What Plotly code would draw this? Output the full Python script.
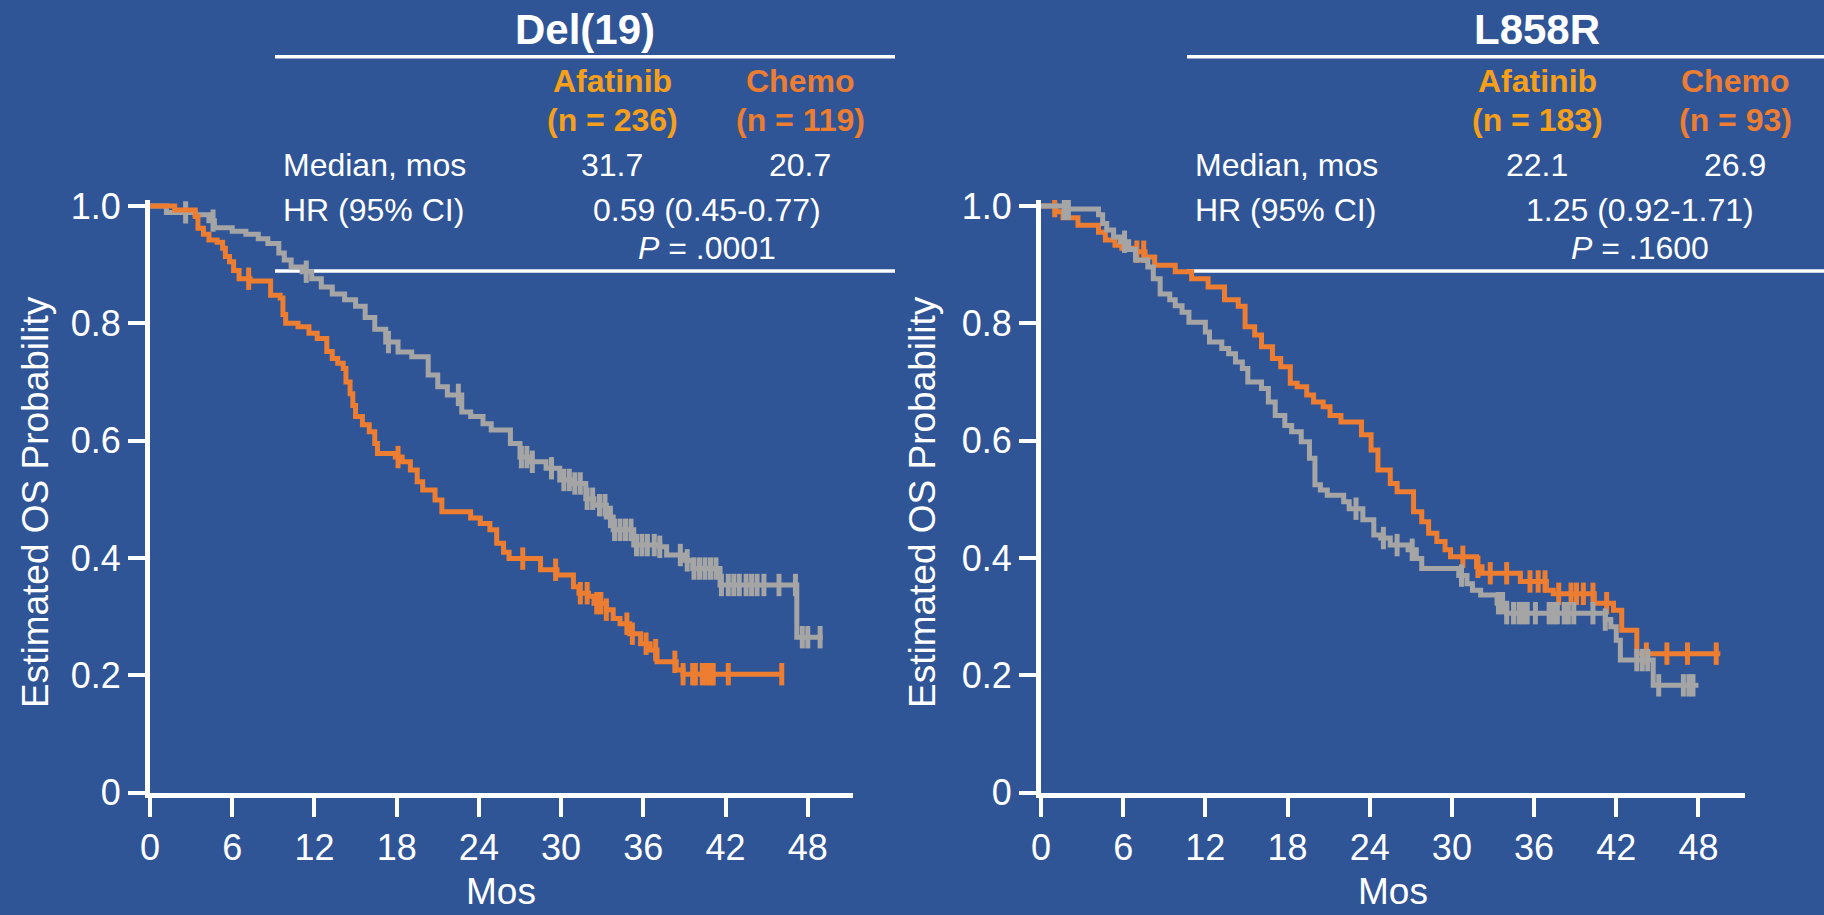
import numpy as np
import plotly.graph_objects as go

BG = '#2F5597'
ORANGE = '#ED7D31'
GRAY = '#A5A5A5'
GOLD = '#F6A01A'
WHITE = '#FFFFFF'
FONT = 'Liberation Sans, Arial, sans-serif'

W, H = 1824, 915

# ---------------- data (KM step points: time in months, survival) ----------------
del19_chemo_t = [0, 1.8, 3.3, 3.5, 3.9, 4.3, 4.9, 5.3, 5.5, 5.8, 6.1, 6.5, 7.3, 8.8, 9.5, 9.7, 9.9,
                 10.8, 11.6, 12.2, 12.9, 13.3, 13.7, 14.1, 14.3, 14.6, 14.8, 15.0, 15.5, 16.0, 16.4,
                 16.6, 17.9, 18.4, 19.0, 19.5, 19.9, 20.8, 21.3, 23.4, 24.1, 24.8, 25.3, 25.8, 26.2,
                 28.5, 29.7, 30.9, 31.3, 32.0, 32.4, 33.3, 33.8, 34.3, 35.0, 35.8, 36.5, 37.0, 38.4,
                 38.9, 46.2]
del19_chemo_s = [1.0, 0.993, 0.982, 0.962, 0.952, 0.942, 0.938, 0.928, 0.914, 0.905, 0.89, 0.876,
                 0.872, 0.848, 0.843, 0.815, 0.8, 0.794, 0.783, 0.774, 0.752, 0.74, 0.732, 0.723, 0.70,
                 0.68, 0.66, 0.641, 0.627, 0.615, 0.595, 0.578, 0.572, 0.564, 0.55, 0.53, 0.516, 0.499,
                 0.479, 0.468, 0.459, 0.448, 0.425, 0.41, 0.399, 0.38, 0.371, 0.351, 0.34, 0.335, 0.323,
                 0.312, 0.297, 0.288, 0.271, 0.254, 0.243, 0.223, 0.209, 0.202, 0.202]
del19_chemo_cens = [7.2, 18.1, 27.2, 29.6, 31.4, 31.9, 32.6, 32.9, 33.3, 34.8, 35.2, 36.2, 36.9,
                    38.3, 38.9, 39.6, 39.8, 40.3, 40.6, 40.9, 41.1, 42.2, 46.1]

del19_afa_t = [0, 1.2, 3.3, 4.3, 4.7, 6.0, 7.0, 7.9, 8.6, 9.4, 9.8, 10.3, 11.1, 11.8, 12.5, 13.3,
               14.2, 15.0, 15.7, 16.4, 17.2, 18.1, 19.1, 20.3, 21.0, 21.7, 22.75, 23.4, 24.3, 24.9,
               26.3, 27.0, 27.7, 28.9, 29.9, 30.7, 31.8, 32.4, 33.3, 33.8, 35.3, 37.2, 37.7, 38.9,
               39.6, 41.6, 47.2, 49.1]
del19_afa_s = [1.0, 0.989, 0.985, 0.975, 0.963, 0.957, 0.952, 0.944, 0.936, 0.92, 0.908, 0.896,
               0.888, 0.876, 0.862, 0.85, 0.84, 0.829, 0.81, 0.79, 0.768, 0.751, 0.743, 0.712, 0.692,
               0.678, 0.649, 0.641, 0.629, 0.618, 0.595, 0.572, 0.564, 0.553, 0.533, 0.527, 0.501,
               0.49, 0.47, 0.448, 0.422, 0.419, 0.405, 0.396, 0.382, 0.354, 0.265, 0.265]
del19_afa_cens = [2.6, 4.6, 11.4, 17.4, 22.5, 27.1, 27.5, 27.9, 29.3, 30.2, 30.6, 31.0, 31.4, 31.9,
                  32.3, 32.8, 33.2, 33.6, 33.9, 34.3, 34.7, 35.1, 35.5, 35.9, 36.3, 36.8, 37.2, 38.7,
                  39.2, 39.7, 40.1, 40.5, 40.9, 41.3, 41.7, 42.2, 42.6, 43.0, 43.5, 43.9, 44.3, 44.8,
                  45.9, 47.1, 47.6, 48.0, 48.9]

l858r_chemo_t = [0, 1.1, 1.6, 2.7, 4.2, 4.7, 5.4, 5.9, 6.9, 7.6, 8.3, 9.8, 11.0, 12.2, 13.4, 14.4,
                 14.9, 15.6, 16.1, 16.9, 17.5, 18.2, 18.7, 19.4, 19.9, 20.6, 21.1, 21.9, 23.4, 24.1,
                 24.6, 25.5, 26.0, 27.2, 27.8, 28.3, 28.9, 29.5, 29.9, 31.8, 32.2, 35.0, 36.9, 37.4,
                 40.4, 41.8, 42.4, 43.5, 49.6]
l858r_chemo_s = [1.0, 0.99, 0.98, 0.967, 0.955, 0.942, 0.933, 0.928, 0.922, 0.913, 0.899, 0.888,
                 0.876, 0.862, 0.84, 0.829, 0.794, 0.78, 0.76, 0.74, 0.726, 0.698, 0.692, 0.678, 0.666,
                 0.658, 0.643, 0.632, 0.61, 0.584, 0.55, 0.527, 0.513, 0.479, 0.462, 0.442, 0.428,
                 0.414, 0.402, 0.385, 0.374, 0.36, 0.345, 0.339, 0.323, 0.311, 0.277, 0.237, 0.237]
l858r_chemo_cens = [1.0, 7.0, 7.5, 30.8, 31.9, 32.8, 34.0, 35.7, 36.3, 36.8, 37.8, 38.7, 39.1,
                    39.6, 40.3, 41.3, 44.2, 45.7, 47.2, 49.3]

l858r_afa_t = [0, 1.7, 4.2, 4.5, 4.8, 5.3, 5.8, 6.4, 6.9, 7.8, 8.2, 8.7, 9.4, 9.8, 10.3, 10.8,
               12.0, 12.3, 13.2, 13.7, 14.2, 14.7, 15.1, 16.1, 16.6, 17.1, 17.8, 18.3, 19.0, 19.6,
               20.0, 20.4, 20.9, 22.1, 22.5, 23.5, 24.3, 24.8, 25.5, 26.8, 27.4, 27.8, 30.5, 31.1,
               31.5, 32.1, 33.3, 34.0, 41.2, 41.6, 42.0, 42.3, 44.7, 48.0]
l858r_afa_s = [1.0, 0.995, 0.985, 0.97, 0.959, 0.947, 0.939, 0.926, 0.908, 0.896, 0.876, 0.85,
               0.84, 0.83, 0.819, 0.802, 0.785, 0.768, 0.757, 0.748, 0.734, 0.723, 0.70, 0.689,
               0.666, 0.643, 0.626, 0.615, 0.598, 0.57, 0.525, 0.516, 0.507, 0.496, 0.484, 0.465,
               0.439, 0.434, 0.422, 0.414, 0.399, 0.382, 0.37, 0.356, 0.345, 0.337, 0.323, 0.306,
               0.295, 0.283, 0.26, 0.226, 0.183, 0.183]
l858r_afa_cens = [1.7, 2.0, 6.1, 23.0, 25.0, 26.0, 27.1, 30.7, 33.4, 33.7, 34.0, 34.5, 34.9, 35.2,
                  35.5, 36.1, 37.1, 37.4, 37.7, 38.2, 38.5, 38.9, 40.3, 41.2, 43.5, 43.9, 44.3,
                  45.1, 46.9, 47.3, 47.6]

x_ticks = [0, 6, 12, 18, 24, 30, 36, 42, 48]
y_ticks = [0, 0.2, 0.4, 0.6, 0.8, 1.0]
y_ticktext = ['0', '0.2', '0.4', '0.6', '0.8', '1.0']

panels = [
    dict(title='Del(19)', n_afa='(n = 236)', n_chemo='(n = 119)', med_afa='31.7', med_chemo='20.7',
         hr='0.59 (0.45-0.77)', p='.0001'),
    dict(title='L858R', n_afa='(n = 183)', n_chemo='(n = 93)', med_afa='22.1', med_chemo='26.9',
         hr='1.25 (0.92-1.71)', p='.1600'),
]


def surv_at(times, surv, t):
    i = int(np.searchsorted(np.asarray(times), t, side='right')) - 1
    return surv[max(i, 0)]


fig = go.Figure()


def add_km(t, s, cens, color, xa, ya):
    fig.add_trace(go.Scatter(x=t, y=s, mode='lines', line=dict(color=color, width=5, shape='hv'),
                             xaxis=xa, yaxis=ya, hoverinfo='skip', showlegend=False))
    fig.add_trace(go.Scatter(x=cens, y=[surv_at(t, s, c) for c in cens], mode='markers',
                             marker=dict(symbol='line-ns', size=16, color=color,
                                         line=dict(color=color, width=5)),
                             xaxis=xa, yaxis=ya, hoverinfo='skip', showlegend=False))


add_km(del19_afa_t, del19_afa_s, del19_afa_cens, GRAY, 'x', 'y')
add_km(del19_chemo_t, del19_chemo_s, del19_chemo_cens, ORANGE, 'x', 'y')
add_km(l858r_chemo_t, l858r_chemo_s, l858r_chemo_cens, ORANGE, 'x2', 'y2')
add_km(l858r_afa_t, l858r_afa_s, l858r_afa_cens, GRAY, 'x2', 'y2')

# ---------------- layout geometry (pixels) ----------------
y_top_px, y_bot_px = 200.1, 792.7


def px_x(p):
    return p / W


def px_y(p):
    return 1 - p / H


ax_common = dict(showgrid=False, zeroline=False, showline=True, linecolor=WHITE, linewidth=5,
                 ticks='outside', tickcolor=WHITE, tickwidth=4, automargin=False,
                 tickfont=dict(family=FONT, size=36, color=WHITE), fixedrange=True)

panel_px = [dict(x0=150, x1=853, xr=51.3), dict(x0=1041, x1=1745, xr=51.4)]

layout_axes = {}
for i, pp in enumerate(panel_px):
    sfx = '' if i == 0 else str(i + 1)
    layout_axes['xaxis' + sfx] = dict(ax_common, domain=[px_x(pp['x0']), px_x(pp['x1'])],
                                      range=[0, pp['xr']], tickvals=x_ticks, ticklen=19,
                                      anchor='y' + sfx)
    layout_axes['yaxis' + sfx] = dict(ax_common, domain=[px_y(y_bot_px), px_y(y_top_px)],
                                      range=[0, 1.01], tickvals=y_ticks, ticktext=y_ticktext,
                                      ticklen=17, anchor='x' + sfx)

annotations = []
shapes = []


def txt(x, y, s, size=32, color=WHITE, bold=False, xanchor='center', angle=0):
    annotations.append(dict(x=px_x(x), y=px_y(y), xref='paper', yref='paper', text=s,
                            showarrow=False, xanchor=xanchor, yanchor='middle', textangle=angle,
                            font=dict(family=FONT, size=size, color=color,
                                      weight='bold' if bold else 'normal')))


def hline(x0, x1, y):
    shapes.append(dict(type='line', xref='paper', yref='paper', x0=px_x(x0), x1=px_x(x1),
                       y0=px_y(y), y1=px_y(y), line=dict(color=WHITE, width=3.5), layer='below'))


geo = [
    dict(title_x=585, line_x0=275, line_x1=895, afa_x=612, chemo_x=800, label_x=281,
         hr_x=707, ytitle_x=35, mos_x=501),
    dict(title_x=1537, line_x0=1187, line_x1=1830, afa_x=1537, chemo_x=1735, label_x=1193,
         hr_x=1640, ytitle_x=922, mos_x=1393),
]

for pd_, g in zip(panels, geo):
    txt(g['title_x'], 29, pd_['title'], size=42, bold=True)
    hline(g['line_x0'], g['line_x1'], 56.7)
    txt(g['afa_x'], 81, 'Afatinib', size=32, color=GOLD, bold=True)
    txt(g['afa_x'], 120, pd_['n_afa'], size=32, color=GOLD, bold=True)
    txt(g['chemo_x'], 81, 'Chemo', size=32, color=ORANGE, bold=True)
    txt(g['chemo_x'], 120, pd_['n_chemo'], size=32, color=ORANGE, bold=True)
    txt(g['label_x'], 165, 'Median, mos', xanchor='left')
    txt(g['afa_x'], 165, pd_['med_afa'])
    txt(g['chemo_x'], 165, pd_['med_chemo'])
    txt(g['label_x'], 210, 'HR (95% CI)', xanchor='left')
    txt(g['hr_x'], 210, pd_['hr'])
    txt(g['hr_x'], 248, '<i>P</i> = ' + pd_['p'])
    hline(g['line_x0'], g['line_x1'], 271)
    txt(g['ytitle_x'], 502, 'Estimated OS Probability', size=37, angle=-90)
    txt(g['mos_x'], 891, 'Mos', size=37)

fig.update_layout(width=W, height=H, margin=dict(l=0, r=0, t=0, b=0, autoexpand=False),
                  paper_bgcolor=BG, plot_bgcolor='rgba(0,0,0,0)',
                  annotations=annotations, shapes=shapes, showlegend=False, **layout_axes)

fig.write_html('out.html', config={'displayModeBar': False})
